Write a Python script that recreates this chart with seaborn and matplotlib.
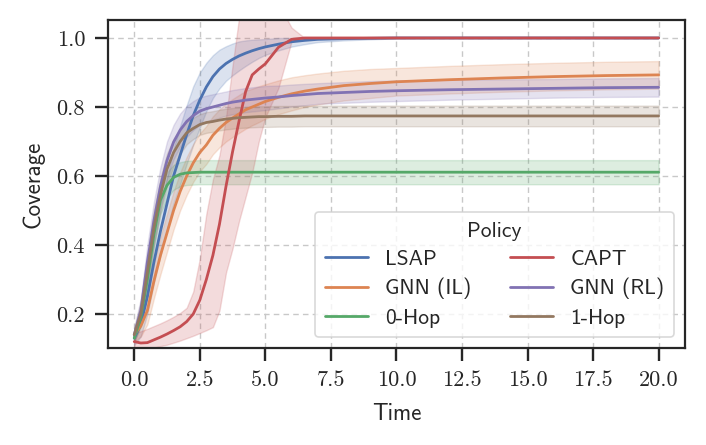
import numpy as np
import pandas as pd
import matplotlib
matplotlib.use("Agg")
import matplotlib.pyplot as plt
import seaborn as sns

# ---------------- data ----------------
time = [0, 0.25, 0.5, 0.75, 1.0, 1.25, 1.5, 1.75, 2.0, 2.25, 2.5, 2.75, 3.0, 3.25,
        3.5, 3.75, 4.0, 4.25, 4.5, 4.75, 5.0, 5.5, 6.0, 6.5, 7.0, 8, 9, 10, 12, 14,
        16, 18, 20]

policies = ["LSAP", "GNN (IL)", "0-Hop", "CAPT", "GNN (RL)", "1-Hop"]

lsap_mean = [0.13, 0.17, 0.25, 0.35, 0.44, 0.52, 0.60, 0.66, 0.72, 0.775, 0.82, 0.858,
             0.888, 0.91, 0.926, 0.938, 0.948, 0.956, 0.963, 0.969, 0.974, 0.982, 0.989,
             0.993, 0.996, 0.998, 0.999, 1.0, 1.0, 1.0, 1.0, 1.0, 1.0]
lsap_band = [0.02, 0.035, 0.05, 0.06, 0.07, 0.075, 0.08, 0.085, 0.085, 0.085, 0.08, 0.07,
             0.062, 0.056, 0.05, 0.046, 0.042, 0.037, 0.032, 0.027, 0.023, 0.018, 0.014,
             0.011, 0.008, 0.005, 0.003, 0.001, 0.0, 0.0, 0.0, 0.0, 0.0]

gnn_il_mean = [0.14, 0.165, 0.21, 0.295, 0.37, 0.435, 0.50, 0.555, 0.60, 0.638, 0.668,
               0.69, 0.718, 0.738, 0.755, 0.768, 0.78, 0.792, 0.80, 0.808, 0.816, 0.828,
               0.838, 0.846, 0.852, 0.862, 0.868, 0.873, 0.879, 0.884, 0.888, 0.891, 0.893]
gnn_il_band = [0.02, 0.03, 0.04, 0.05, 0.055, 0.055, 0.055, 0.055, 0.055, 0.055, 0.055,
               0.055, 0.055, 0.055, 0.055, 0.055, 0.055, 0.055, 0.053, 0.052, 0.05, 0.049,
               0.048, 0.046, 0.045, 0.043, 0.042, 0.04, 0.04, 0.04, 0.04, 0.04, 0.04]

hop0_mean = [0.13, 0.19, 0.30, 0.43, 0.53, 0.573, 0.596, 0.605, 0.609, 0.61, 0.611, 0.611,
             0.611, 0.611, 0.611, 0.611, 0.611, 0.611, 0.611, 0.611, 0.611, 0.611, 0.611,
             0.611, 0.611, 0.611, 0.611, 0.611, 0.611, 0.611, 0.611, 0.611, 0.611]
hop0_band = [0.01, 0.025, 0.035, 0.04, 0.04, 0.038, 0.036, 0.035, 0.035, 0.035, 0.035,
             0.035, 0.035, 0.035, 0.035, 0.035, 0.035, 0.035, 0.035, 0.035, 0.035, 0.035,
             0.035, 0.035, 0.035, 0.035, 0.035, 0.035, 0.035, 0.035, 0.035, 0.035, 0.035]

capt_mean = [0.12, 0.116, 0.117, 0.125, 0.133, 0.142, 0.152, 0.163, 0.178, 0.20, 0.24,
             0.30, 0.37, 0.46, 0.57, 0.67, 0.76, 0.845, 0.893, 0.91, 0.925, 0.973, 0.996,
             1.0, 1.0, 1.0, 1.0, 1.0, 1.0, 1.0, 1.0, 1.0, 1.0]
capt_low = [0.095, 0.097, 0.10, 0.103, 0.107, 0.111, 0.117, 0.123, 0.13, 0.137, 0.145,
            0.153, 0.162, 0.21, 0.32, 0.39, 0.47, 0.54, 0.61, 0.70, 0.77, 0.855, 0.99,
            1.0, 1.0, 1.0, 1.0, 1.0, 1.0, 1.0, 1.0, 1.0, 1.0]
capt_high = [0.145, 0.15, 0.157, 0.165, 0.173, 0.182, 0.192, 0.203, 0.218, 0.265, 0.36,
             0.49, 0.59, 0.66, 0.77, 0.92, 1.06, 1.10, 1.10, 1.10, 1.10, 1.10, 1.03,
             1.0, 1.0, 1.0, 1.0, 1.0, 1.0, 1.0, 1.0, 1.0, 1.0]

gnn_rl_mean = [0.14, 0.21, 0.35, 0.47, 0.57, 0.645, 0.698, 0.733, 0.758, 0.775, 0.788,
               0.795, 0.80, 0.805, 0.81, 0.814, 0.817, 0.82, 0.822, 0.824, 0.826, 0.829,
               0.833, 0.836, 0.839, 0.842, 0.845, 0.847, 0.85, 0.852, 0.854, 0.856, 0.857]
gnn_rl_band = [0.02, 0.035, 0.05, 0.055, 0.055, 0.055, 0.05, 0.048, 0.045, 0.042, 0.04,
               0.038, 0.037, 0.036, 0.035, 0.035, 0.035, 0.035, 0.035, 0.035, 0.035, 0.033,
               0.032, 0.031, 0.03, 0.03, 0.03, 0.03, 0.029, 0.028, 0.027, 0.027, 0.027]

hop1_mean = [0.14, 0.20, 0.32, 0.45, 0.545, 0.62, 0.668, 0.70, 0.725, 0.738, 0.749, 0.755,
             0.758, 0.762, 0.765, 0.767, 0.769, 0.77, 0.771, 0.772, 0.772, 0.773, 0.773,
             0.774, 0.774, 0.774, 0.774, 0.774, 0.774, 0.774, 0.774, 0.774, 0.774]
hop1_band = [0.02, 0.035, 0.045, 0.05, 0.05, 0.045, 0.04, 0.036, 0.033, 0.031, 0.03, 0.03,
             0.03, 0.03, 0.03, 0.03, 0.03, 0.03, 0.03, 0.03, 0.03, 0.03, 0.03, 0.03, 0.03,
             0.03, 0.03, 0.03, 0.03, 0.03, 0.03, 0.03, 0.03]

x_ticks = [0.0, 2.5, 5.0, 7.5, 10.0, 12.5, 15.0, 17.5, 20.0]
y_ticks = [0.2, 0.4, 0.6, 0.8, 1.0]

# ---------------- assemble ----------------
means = {"LSAP": lsap_mean, "GNN (IL)": gnn_il_mean, "0-Hop": hop0_mean,
         "CAPT": capt_mean, "GNN (RL)": gnn_rl_mean, "1-Hop": hop1_mean}
t_arr = np.array(time)
bands = {}
for name, m, b in [("LSAP", lsap_mean, lsap_band), ("GNN (IL)", gnn_il_mean, gnn_il_band),
                   ("0-Hop", hop0_mean, hop0_band), ("GNN (RL)", gnn_rl_mean, gnn_rl_band),
                   ("1-Hop", hop1_mean, hop1_band)]:
    m = np.array(m); b = np.array(b)
    bands[name] = (m - b, np.minimum(m + b, 1.0))
bands["CAPT"] = (np.array(capt_low), np.array(capt_high))

rows = []
for p in policies:
    for t, v in zip(time, means[p]):
        rows.append({"Time": t, "Coverage": v, "Policy": p})
df = pd.DataFrame(rows)

# ---------------- style ----------------
sns.set_theme(style="ticks", palette="deep")
plt.rcParams["font.family"] = ["cmss10", "DejaVu Sans"]
plt.rcParams["axes.formatter.use_mathtext"] = True

LABEL_FS = 16.5
TICK_FS = 16
LEGEND_FS = 15.5

fig = plt.figure(figsize=(7.06, 4.45), dpi=100)
ax = fig.add_axes([0.153, 0.218, 0.817, 0.737])

palette = sns.color_palette("deep", 6)
colors = dict(zip(policies, palette))

for p in policies:
    lo, hi = bands[p]
    ax.fill_between(t_arr, lo, hi, color=colors[p], alpha=0.2, linewidth=1.0)

sns.lineplot(data=df, x="Time", y="Coverage", hue="Policy", hue_order=policies,
             palette=colors, errorbar=None, linewidth=2.0, ax=ax)

ax.set_xlim(-1, 21)
ax.set_ylim(0.1015, 1.052)
ax.set_xticks(x_ticks)
ax.set_xticklabels([f"{v:.1f}" for v in x_ticks])
ax.set_yticks(y_ticks)
ax.set_yticklabels([f"{v:.1f}" for v in y_ticks])
ax.tick_params(axis="both", labelsize=TICK_FS, length=9.5, width=1.7, color="#262626",
               labelfontfamily="cmr10", pad=7)
ax.grid(True, linestyle=(0, (4, 3)), color="#c8c8c8", linewidth=1.0)
ax.set_axisbelow(True)
for s in ax.spines.values():
    s.set_linewidth(1.6)
    s.set_color("#262626")

ax.set_xlabel("Time", fontsize=LABEL_FS, labelpad=9)
ax.set_ylabel("Coverage", fontsize=LABEL_FS, labelpad=9)

sns.move_legend(ax, "lower right", ncol=2, title="Policy", fontsize=LEGEND_FS,
                title_fontsize=LEGEND_FS, frameon=True, borderaxespad=0.5,
                columnspacing=1.8, handlelength=2.0, borderpad=0.45, labelspacing=0.42)
leg = ax.get_legend()
leg.get_frame().set_edgecolor("#d0d0d0")
leg.get_frame().set_linewidth(1.2)
for line in leg.get_lines():
    line.set_linewidth(2.0)

fig.savefig("out.png", dpi=100)
